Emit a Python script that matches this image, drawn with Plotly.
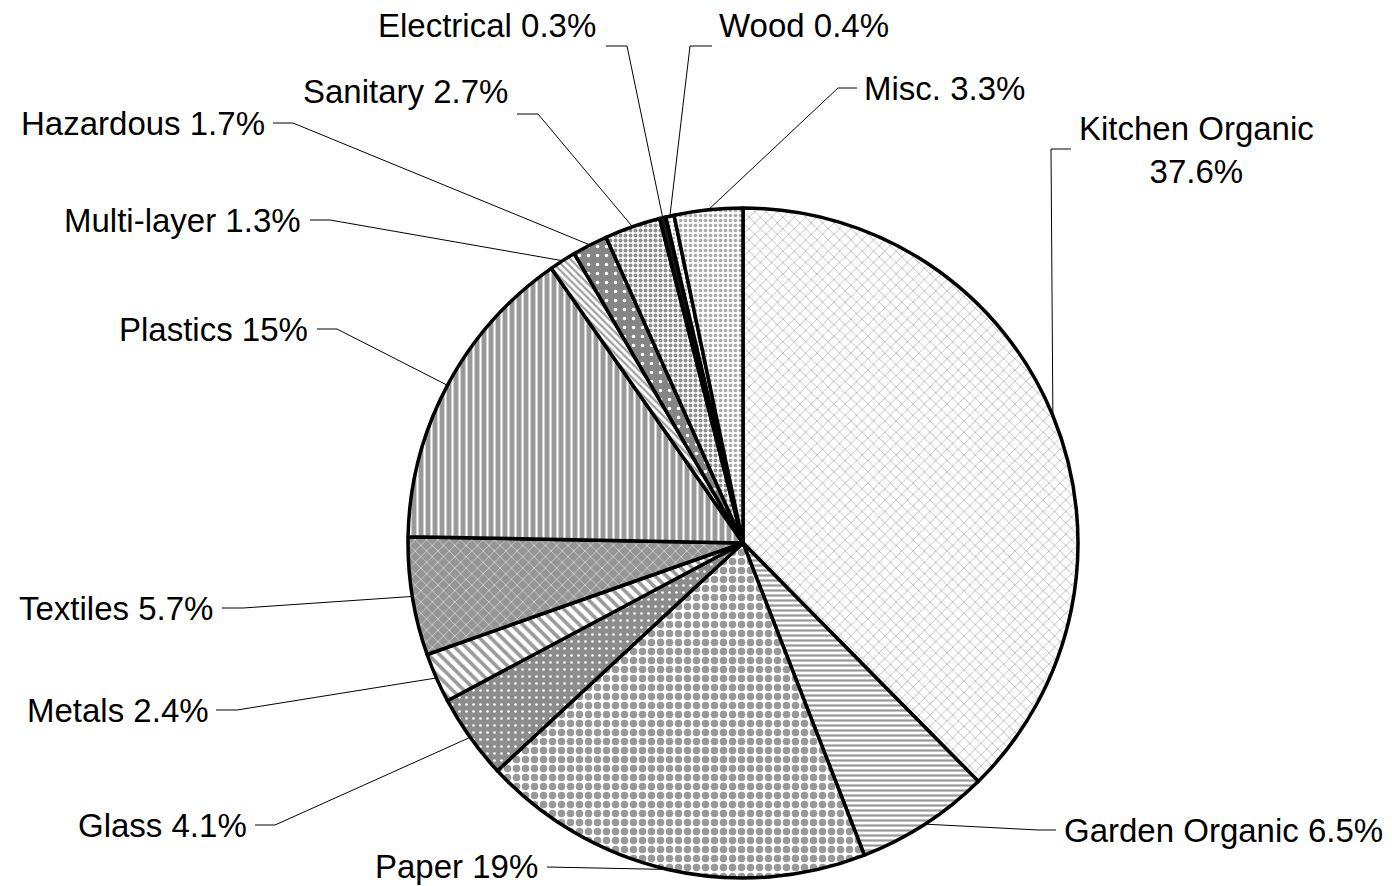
import math
import plotly.graph_objects as go

# ---- data ----
categories = ["Kitchen Organic", "Garden Organic", "Paper", "Glass", "Metals",
              "Textiles", "Plastics", "Multi-layer", "Hazardous", "Sanitary",
              "Electrical", "Wood", "Misc."]
shares = [37.6, 6.5, 19, 4.1, 2.4, 5.7, 15, 1.3, 1.7, 2.7, 0.3, 0.4, 3.3]
label_texts = ["Kitchen Organic<br>37.6%", "Garden Organic 6.5%", "Paper 19%",
               "Glass 4.1%", "Metals 2.4%", "Textiles 5.7%", "Plastics 15%",
               "Multi-layer 1.3%", "Hazardous 1.7%", "Sanitary 2.7%",
               "Electrical 0.3%", "Wood 0.4%", "Misc. 3.3%"]

# ---- layout / style ----
SCREEN_W, SCREEN_H = 1392, 886
OFF = 8                       # default page margin of the html body
W, H = SCREEN_W - OFF, SCREEN_H - OFF
CX, CY, R = 743, 543, 335     # pie centre and radius in screen pixels

# per-slice pattern styles
pat_shape = ["x", "-", ".", ".", "\\", "x", "|", "\\", ".", ".", "", ".", "."]
pat_bg = ["#ffffff", "#ffffff", "#ffffff", "#8c8c8c", "#ffffff", "#959595",
          "#999999", "#ffffff", "#858585", "#ffffff", "#1a1a1a", "#ffffff", "#ffffff"]
pat_fg = ["#a0a0a0", "#9a9a9a", "#999999", "#ffffff", "#9a9a9a", "#e6e6e6",
          "#ffffff", "#a0a0a0", "#ffffff", "#8f8f8f", "#1a1a1a", "#bbbbbb", "#a8a8a8"]
pat_size = [8, 5, 9, 7, 8, 8, 7, 5, 9, 5, 4, 4, 5]
pat_sol = [0.15, 0.45, 0.55, 0.12, 0.45, 0.15, 0.3, 0.45, 0.12, 0.5, 0.0, 0.3, 0.4]

# label placement (screen px): (x, y, xanchor, elbow_x, elbow_y, tail_x)
label_pos = [
    (1196, 150, "center", 1051, 149, 1071),
    (1062, 830, "left", 1038, 830, 1056),
    (540, 866, "right", 567, 867, 547),
    (249, 825, "right", 275, 825, 255),
    (211, 710, "right", 237, 710, 216),
    (215, 608, "right", 243, 608, 222),
    (310, 329, "right", 337, 329, 317),
    (303, 220, "right", 330, 220, 310),
    (267, 123, "right", 293, 123, 273),
    (510, 91, "right", 538, 114, 517),
    (598, 25, "right", 627, 46, 606),
    (717, 25, "left", 690, 46, 712),
    (862, 88, "left", 838, 88, 857),
]

FONT = "Liberation Sans, Arial, sans-serif"
FS = 33

fig = go.Figure()

fig.add_trace(go.Pie(
    labels=categories, values=shares, sort=False, direction="clockwise",
    rotation=0, textinfo="none", hoverinfo="label+percent", showlegend=False,
    domain=dict(x=[(CX - R - OFF) / W, (CX + R - OFF) / W],
                y=[1 - (CY + R - OFF) / H, 1 - (CY - R - OFF) / H]),
    marker=dict(
        colors=pat_bg,
        line=dict(color="black", width=3.5),
        pattern=dict(shape=pat_shape, bgcolor=pat_bg, fgcolor=pat_fg,
                     size=pat_size, solidity=pat_sol, fillmode="replace"),
    ),
))

# leader lines computed from slice mid-angles
total = sum(shares)
cum = 0.0
for v, txt, (lx, ly, anc, ex, ey, tx) in zip(shares, label_texts, label_pos):
    mid = (cum + v / 2) / total * 2 * math.pi
    cum += v
    px = CX + R * math.sin(mid)
    py = CY - R * math.cos(mid)
    fig.add_trace(go.Scatter(
        x=[px, ex, tx], y=[py, ey, ey], mode="lines",
        line=dict(color="black", width=1), hoverinfo="skip", showlegend=False,
    ))
    fig.add_annotation(
        x=lx, y=ly, xref="x", yref="y", text=txt, showarrow=False,
        xanchor=anc, yanchor="middle", align="center",
        font=dict(family=FONT, size=FS, color="black"),
    )

fig.update_layout(
    width=W, height=H, margin=dict(l=0, r=0, t=0, b=0),
    paper_bgcolor="white", plot_bgcolor="rgba(0,0,0,0)",
    xaxis=dict(range=[OFF, SCREEN_W], visible=False, fixedrange=True, domain=[0, 1]),
    yaxis=dict(range=[SCREEN_H, OFF], visible=False, fixedrange=True, domain=[0, 1]),
)

fig.write_html("out.html")
